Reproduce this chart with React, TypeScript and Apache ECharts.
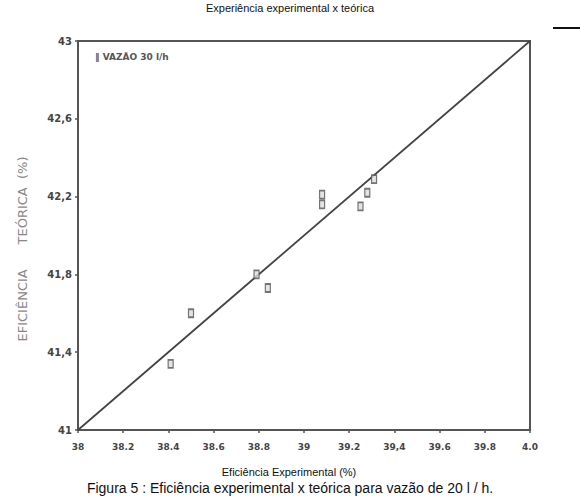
import React, { useEffect, useRef } from "react";
import * as echarts from "echarts";

const xTickValues = [38, 38.2, 38.4, 38.6, 38.8, 39, 39.2, 39.4, 39.6, 39.8, 40];
const xTickLabels = ["38", "38.2", "38.4", "38.6", "38.8", "39", "39.2", "39,4", "39.6", "39.8", "4.0"];
const yTickValues = [41, 41.4, 41.8, 42.2, 42.6, 43];
const yTickLabels = ["41", "41,4", "41,8", "42,2", "42,6", "43"];

const expValues = [38.41, 38.5, 38.79, 38.84, 39.08, 39.08, 39.25, 39.28, 39.31];
const teoValues = [41.34, 41.6, 41.8, 41.73, 42.21, 42.16, 42.15, 42.22, 42.29];
const refLine = [
  [38, 41],
  [40, 43],
];

const labelFor = (vals: number[], labels: string[]) => (v: number) => {
  let best = 0;
  for (let i = 1; i < vals.length; i++) {
    if (Math.abs(vals[i] - v) < Math.abs(vals[best] - v)) best = i;
  }
  return labels[best];
};

export default function App() {
  const ref = useRef<HTMLDivElement>(null);
  useEffect(() => {
    if (!ref.current) return;
    const chart = echarts.init(ref.current, null, { renderer: "svg" });
    const axisColor = "#555";
    const labelStyle = {
      color: "#444",
      fontFamily: "DejaVu Sans",
      fontWeight: "bold" as const,
      fontSize: 9,
    };
    chart.setOption({
      animation: false,
      backgroundColor: "#fff",
      grid: { left: 78, top: 41, width: 452, height: 389 },
      xAxis: {
        type: "value",
        min: 38,
        max: 40,
        axisLine: { show: true, lineStyle: { color: axisColor, width: 2 } },
        axisTick: { show: true, customValues: xTickValues, length: 3, lineStyle: { color: axisColor, width: 1.5 } },
        axisLabel: {
          ...labelStyle,
          customValues: xTickValues,
          margin: 12,
          formatter: labelFor(xTickValues, xTickLabels),
        },
        splitLine: { show: false },
      },
      yAxis: {
        type: "value",
        min: 41,
        max: 43,
        axisLine: { show: true, lineStyle: { color: axisColor, width: 2 } },
        axisTick: { show: true, customValues: yTickValues, length: 3, lineStyle: { color: axisColor, width: 1.5 } },
        axisLabel: {
          ...labelStyle,
          fontSize: 10,
          customValues: yTickValues,
          margin: 6,
          formatter: labelFor(yTickValues, yTickLabels),
        },
        splitLine: { show: false },
      },
      series: [
        {
          type: "line",
          data: refLine,
          symbol: "none",
          lineStyle: { color: "#444", width: 1.8 },
          z: 2,
        },
        {
          type: "scatter",
          data: expValues.map((x, i) => [x, teoValues[i]]),
          symbol: "rect",
          symbolSize: [5, 8],
          itemStyle: { color: "#ddd", borderColor: "#555", borderWidth: 1.5 },
          z: 3,
        },
      ],
      graphic: [
        {
          type: "rect",
          shape: { x: 78, y: 41, width: 452, height: 389 },
          style: { fill: "none", stroke: axisColor, lineWidth: 2 },
          silent: true,
        },
        {
          type: "text",
          x: 290,
          y: 8,
          style: {
            text: "Experiência experimental x teórica",
            font: "11px 'Liberation Sans'",
            fill: "#111",
            textAlign: "center",
            textVerticalAlign: "middle",
          },
        },
        {
          type: "text",
          x: 95,
          y: 57,
          style: {
            text: "‖ VAZÃO 30 l/h",
            font: "bold 9px 'DejaVu Sans'",
            fill: "#555",
            textVerticalAlign: "middle",
          },
        },
        {
          type: "text",
          x: 22,
          y: 249,
          rotation: Math.PI / 2,
          style: {
            text: "EFICIÊNCIA      TEÓRICA  (%)",
            font: "13px 'DejaVu Sans'",
            fill: "#888",
            textAlign: "center",
            textVerticalAlign: "middle",
          },
        },
        {
          type: "text",
          x: 289,
          y: 472,
          style: {
            text: "Eficiência Experimental (%)",
            font: "11px 'Liberation Sans'",
            fill: "#111",
            textAlign: "center",
            textVerticalAlign: "middle",
          },
        },
        {
          type: "text",
          x: 290,
          y: 488,
          style: {
            text: "Figura 5 : Eficiência experimental x teórica para vazão de 20 l / h.",
            font: "14px 'Liberation Sans'",
            fill: "#111",
            textAlign: "center",
            textVerticalAlign: "middle",
          },
        },
        {
          type: "line",
          shape: { x1: 553, y1: 28, x2: 580, y2: 28 },
          style: { stroke: "#111", lineWidth: 2 },
        },
      ],
    });
    return () => chart.dispose();
  }, []);
  return (
    <div
      ref={ref}
      style={{ position: "absolute", left: 0, top: 0, width: 580, height: 500 }}
    />
  );
}
